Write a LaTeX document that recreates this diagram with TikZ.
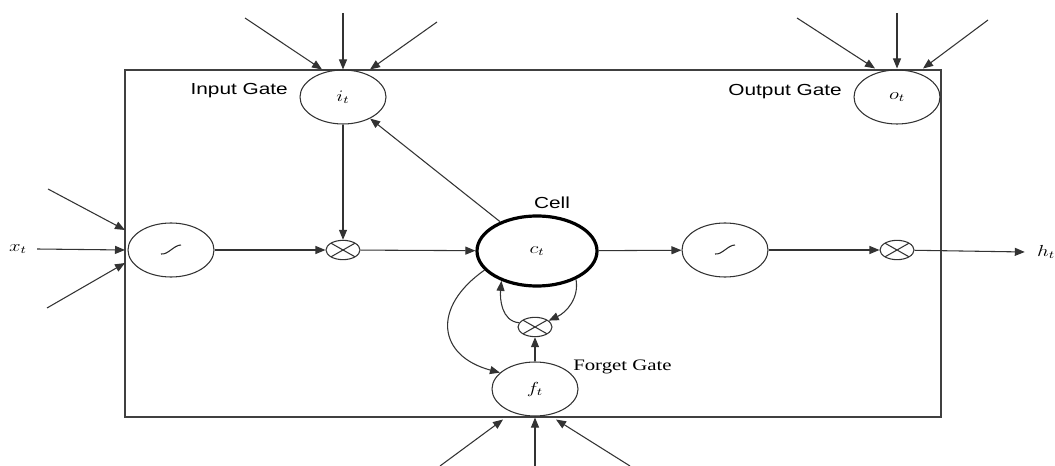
\documentclass[tikz,border=0pt]{standalone}
\usepackage{fontspec}
\usepackage{graphicx}
\setmainfont{Liberation Serif}
\newfontfamily\sanslab{Liberation Sans}
\usetikzlibrary{arrows.meta,shapes.geometric,calc}
% wide lettering used throughout the figure
\newcommand{\hstretch}[1]{\scalebox{1.3}[1]{#1}}

\tikzset{
  line/.style={draw=black!80, line width=0.8pt},
  arr/.style={line, -{Triangle[length=7.5pt,width=6pt]}},
  gate/.style={ellipse, line, minimum width=64.5pt, minimum height=40.5pt, inner sep=0pt},
  cellnode/.style={ellipse, draw=black, line width=2.4pt, minimum width=90pt, minimum height=52.5pt, inner sep=0pt},
  mult/.style={ellipse, line, minimum width=25.5pt, minimum height=14.5pt, inner sep=0pt,
    path picture={
      \draw[black!80, line width=0.8pt]
        (path picture bounding box.north west) -- (path picture bounding box.south east)
        (path picture bounding box.south west) -- (path picture bounding box.north east);
    }},
  squash/.style={gate,
    path picture={
      \draw[black!85, line width=0.8pt]
        ([shift={(-10,4)}]path picture bounding box.center)
        .. controls ([shift={(-3,5)}]path picture bounding box.center)
        and ([shift={(3,-5)}]path picture bounding box.center)
        .. ([shift={(10,-5)}]path picture bounding box.center);
    }},
  lab/.style={inner sep=0pt, font=\fontsize{12}{14}\selectfont},
}

\begin{document}
\begin{tikzpicture}[x=0.75pt, y=-0.75pt]
\useasboundingbox (0,0) rectangle (1055,466);

% block boundary
\node[line, draw=black!75, minimum width=612pt, minimum height=260.25pt, inner sep=0pt, outer sep=0pt] (box) at (533,243.5) {};

% gates and units
\node[gate] (it) at (343,97) {\fontsize{12}{14}\selectfont\hstretch{$i_t$}};
\node[gate] (ot) at (897,97) {\fontsize{12}{14}\selectfont\hstretch{$o_t$}};
\node[gate] (ft) at (535,389) {\fontsize{12}{14}\selectfont\hstretch{$f_t$}};
\node[squash] (sL) at (171,250) {};
\node[squash] (sR) at (725,250) {};
\node[cellnode] (cell) at (537,251) {\fontsize{12}{14}\selectfont\hstretch{$c_t$}};
\node[mult] (m1) at (343,250) {};
\node[mult] (m2) at (897,250) {};
\node[mult] (mF) at (535,327) {};

% labels
\node[lab, anchor=east] (lin) at (288,91) {\hstretch{\sanslab Input Gate}};
\node[lab, anchor=east] (lout) at (842,92) {\hstretch{\sanslab Output Gate}};
\node[lab] (lcell) at (552,203) {\hstretch{\sanslab Cell}};
\node[lab, anchor=west] (lfor) at (573,367) {\hstretch{Forget Gate}};
\node[lab] (xt) at (18,249) {\hstretch{$x_t$}};
\node[lab] (ht) at (1046,252) {\hstretch{$h_t$}};

% free ends of the incoming connections
\coordinate (xa) at (48,189);
\coordinate (xc) at (47,308);
\coordinate (ia) at (245,18);
\coordinate (ib) at (343,13);
\coordinate (ic) at (437,22);
\coordinate (oa) at (797,18);
\coordinate (ob) at (897,13);
\coordinate (oc) at (988,20);
\coordinate (fa) at (440,466);
\coordinate (fb) at (535,466);
\coordinate (fc) at (630,466);

% inputs into the block
\draw[arr] (xa) -- ($(sL.west -| box.west)+(0,-20)$);
\draw[arr] ([xshift=7.5pt]xt.east) -- (sL.west -| box.west);
\draw[arr] (xc) -- ($(sL.west -| box.west)+(0,13)$);

\draw[arr] (ia) -- ($(it.north)+(-21,0)$);
\draw[arr] (ib) -- (it.north);
\draw[arr] (ic) -- ($(it.north)+(27,0)$);

\draw[arr] (oa) -- ($(ot.north)+(-22,-1)$);
\draw[arr] (ob) -- ($(ot.north)+(0,-1)$);
\draw[arr] (oc) -- ($(ot.north)+(26,-1)$);

\draw[arr] (fa) -- ($(ft.south)+(-32,3)$);
\draw[arr] (fb) -- ($(ft.south)+(0,1)$);
\draw[arr] (fc) -- ($(ft.south)+(21,3)$);

% internal flow
\draw[arr] (sL) -- (m1);
\draw[arr] (it) -- (m1);
\draw[arr] (m1) -- (cell);
\draw[arr] (cell) -- (it);
\draw[arr] (cell) -- (sR);
\draw[arr] (sR) -- (m2);
\draw[arr] (m2) -- ([xshift=-9pt]ht.west);

% cell state recurrence through the forget gate
\draw[arr] (cell.-36) to[out=-80, in=25] (mF.25);
\draw[arr] (mF.165) to[out=175, in=-95] (cell.-140);
\draw[arr] (cell.-160) to[out=-145, in=165, looseness=1.6] (ft.155);
\draw[arr] (ft) -- (mF);
\end{tikzpicture}
\end{document}
